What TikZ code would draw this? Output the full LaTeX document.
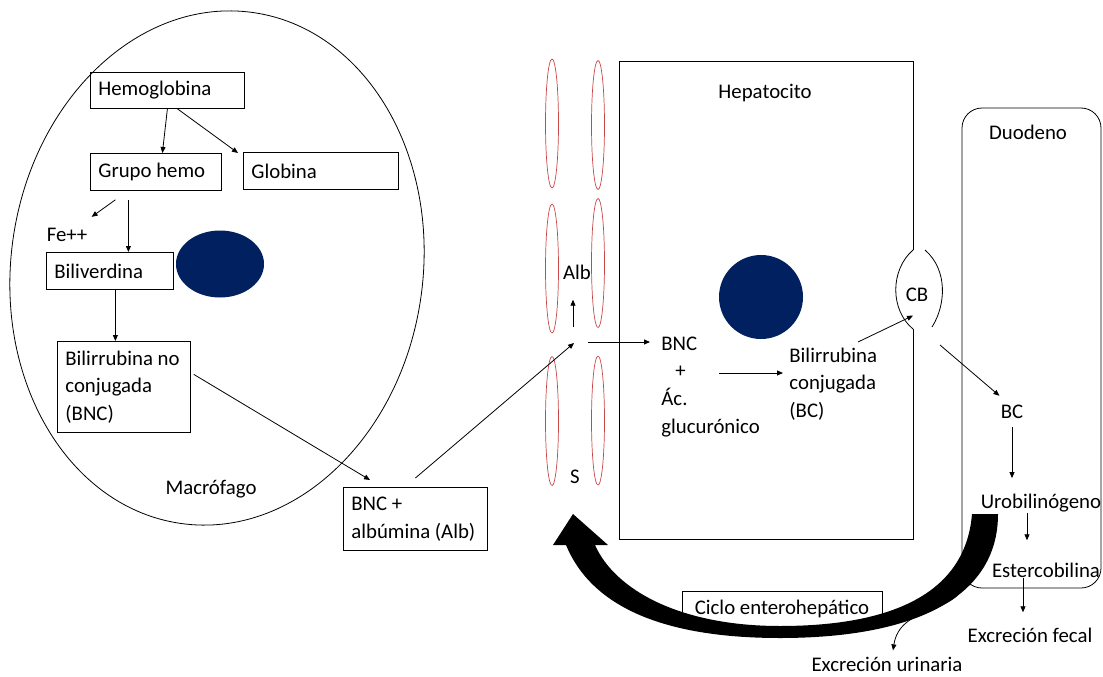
\documentclass[tikz,border=0pt]{standalone}
\usepackage{fontspec}
\setmainfont{Carlito}
\usepackage{xcolor}
\usetikzlibrary{arrows.meta,calc}

\definecolor{nucleo}{RGB}{0,32,96}
\definecolor{sinus}{RGB}{200,70,70}

\begin{document}
\begin{tikzpicture}[x=1pt, y=-1pt, line width=0.8pt,
    every node/.style={font=\fontsize{20.8}{27.6}\selectfont},
    caja/.style={draw, anchor=north west, align=flush left, inner xsep=8pt, inner ysep=0pt},
    etiq/.style={inner sep=0pt},
    flecha/.style={-{Triangle[length=6pt,width=5pt]}}]
        \useasboundingbox (0,0) rectangle (1103,677);

        % Macrofago
        \draw[rotate around={-8:(217,268)}] (217,268) ellipse [x radius=206, y radius=258];
        \fill[nucleo] (220,264) ellipse [x radius=44, y radius=33.5];
        \node[caja, text width=138pt, minimum height=36pt] (hb) at (90,72) {Hemoglobina};
        \node[caja, text width=115pt, minimum height=37pt] (gh) at (90,153) {Grupo hemo};
        \node[caja, text width=139pt, minimum height=37pt] (glo) at (243,152) {Globina};
        \node[etiq] (fe) at (67,235) {Fe++};
        \node[caja, text width=111pt, minimum height=37pt] (bv) at (46,252) {Biliverdina};
        \node[caja, text width=117pt, minimum height=91pt] (bnc) at (57,341) {Bilirrubina no\\conjugada\\(BNC)};
        \node[etiq] (mac) at (211,489) {Macrófago};
        \node[caja, text width=128pt, minimum height=63pt] (alb) at (343,487) {BNC +\\albúmina (Alb)};

        \draw[flecha] (hb.south) -- ($(gh.north)+(6.5,0)$);
        \draw[flecha] ($(hb.south)+(10,0)$) -- ($(glo.north west)+(-5,1)$);
        \draw[flecha] ($(gh.south)+(-40.5,9)$) -- ($(fe.north east)+(4,-11)$);
        \draw[flecha] ($(gh.south)+(-27.5,9)$) -- ($(bv.north)+(18.5,0)$);
        \draw[flecha] ($(bv.south)+(5.5,0)$) -- ($(bnc.north)+(-8.5,0)$);
        \draw[flecha] ($(bnc.east)+(3,-12.5)$) -- ($(alb.north west)+(27,-7)$);

        % Sinusoide
        \foreach \cx/\cy in {552/123.5, 552/268.5, 552/421, 598/125, 598/263, 598/420.5}
            \draw[sinus, line width=0.7pt] (\cx,\cy) ellipse [x radius=6.5, y radius=64.5];
        \coordinate (sinu) at (574,343);
        \node[etiq] (albt) at (577,272) {Alb};
        \node[etiq] (s) at (575,477) {S};
        \draw[flecha] ($(alb.north)+(0,-9)$) -- (sinu);
        \draw[flecha] ($(sinu)+(-1,-16)$) -- ($(albt.south)+(-4,20)$);

        % Hepatocito
        \draw (913,250) -- (913,61) -- (619,61) -- (619,539) -- (913,539) -- (913,329);
        \draw (913,250) .. controls (890,270) and (890,310) .. (913,329);
        \draw (925,250) .. controls (948,270) and (946,305) .. (932,327);
        \fill[nucleo] (761,297) circle [radius=42];
        \node[etiq] (hep) at (765,93) {Hepatocito};
        \node[etiq, align=left, anchor=north west] (glu) at (661,336.4) {BNC\\\hspace{14pt}+\\Ác.\\glucurónico};
        \node[etiq, align=left, anchor=north west] (bcj) at (789,347.5) {Bilirrubina\\conjugada\\(BC)};
        \node[etiq] (cb) at (917,295) {CB};
        \coordinate (cbout) at (940,345);

        \draw[flecha] ($(sinu)+(14,-1)$) -- ($(glu.north west)+(-11,5.6)$);
        \draw[flecha] ($(glu.north west)+(58,36.6)$) -- ($(bcj.north west)+(-6,25.5)$);
        \draw[flecha] ($(bcj.north west)+(69,-5.5)$) -- ($(cb.south)+(-4,13.4)$);

        % Duodeno
        \draw[rounded corners=20pt] (962,108) rectangle (1101,588);
        \node[etiq] (duo) at (1028,132) {Duodeno};
        \node[etiq] (bcd) at (1012,412) {BC};
        \node[etiq] (uro) at (1041,503) {Urobilinógeno};
        \node[etiq] (est) at (1046,570) {Estercobilina};
        \node[etiq] (fec) at (1030,635) {Excreción fecal};
        \node[etiq] (uri) at (887,664) {Excreción urinaria};
        \coordinate (urisal) at (966,582);

        \draw[flecha] (cbout) -- ($(bcd.north west)+(-1,-9)$);
        \draw[flecha] ($(bcd.south)+(0,8)$) -- ($(uro.north)+(-29,-15.5)$);
        \draw[flecha] ($(uro.south)+(-14,1)$) -- ($(est.north)+(-19,-22)$);
        \draw[flecha] ($(est.south)+(-23,0)$) -- ($(fec.north)+(-7,-15)$);
        \draw[flecha] (urisal) .. controls (955,615) and (900,605) .. ($(uri.north)+(6,-6)$);

        % Ciclo enterohepatico
        \node[draw, inner sep=0pt, minimum width=200pt, minimum height=36pt] (ciclo) at (782,609) {Ciclo enterohepático};
        \fill (972,514) -- (998,514) .. controls (998,600) and (910,638) .. (780,638)
            .. controls (680,638) and (595,615) .. (566,545) -- (553,545) -- (573,514)
            -- (608,545) -- (595,545) .. controls (615,590) and (680,626) .. (780,626)
            .. controls (880,626) and (965,600) .. (972,514) -- cycle;
    \end{tikzpicture}
\end{document}
